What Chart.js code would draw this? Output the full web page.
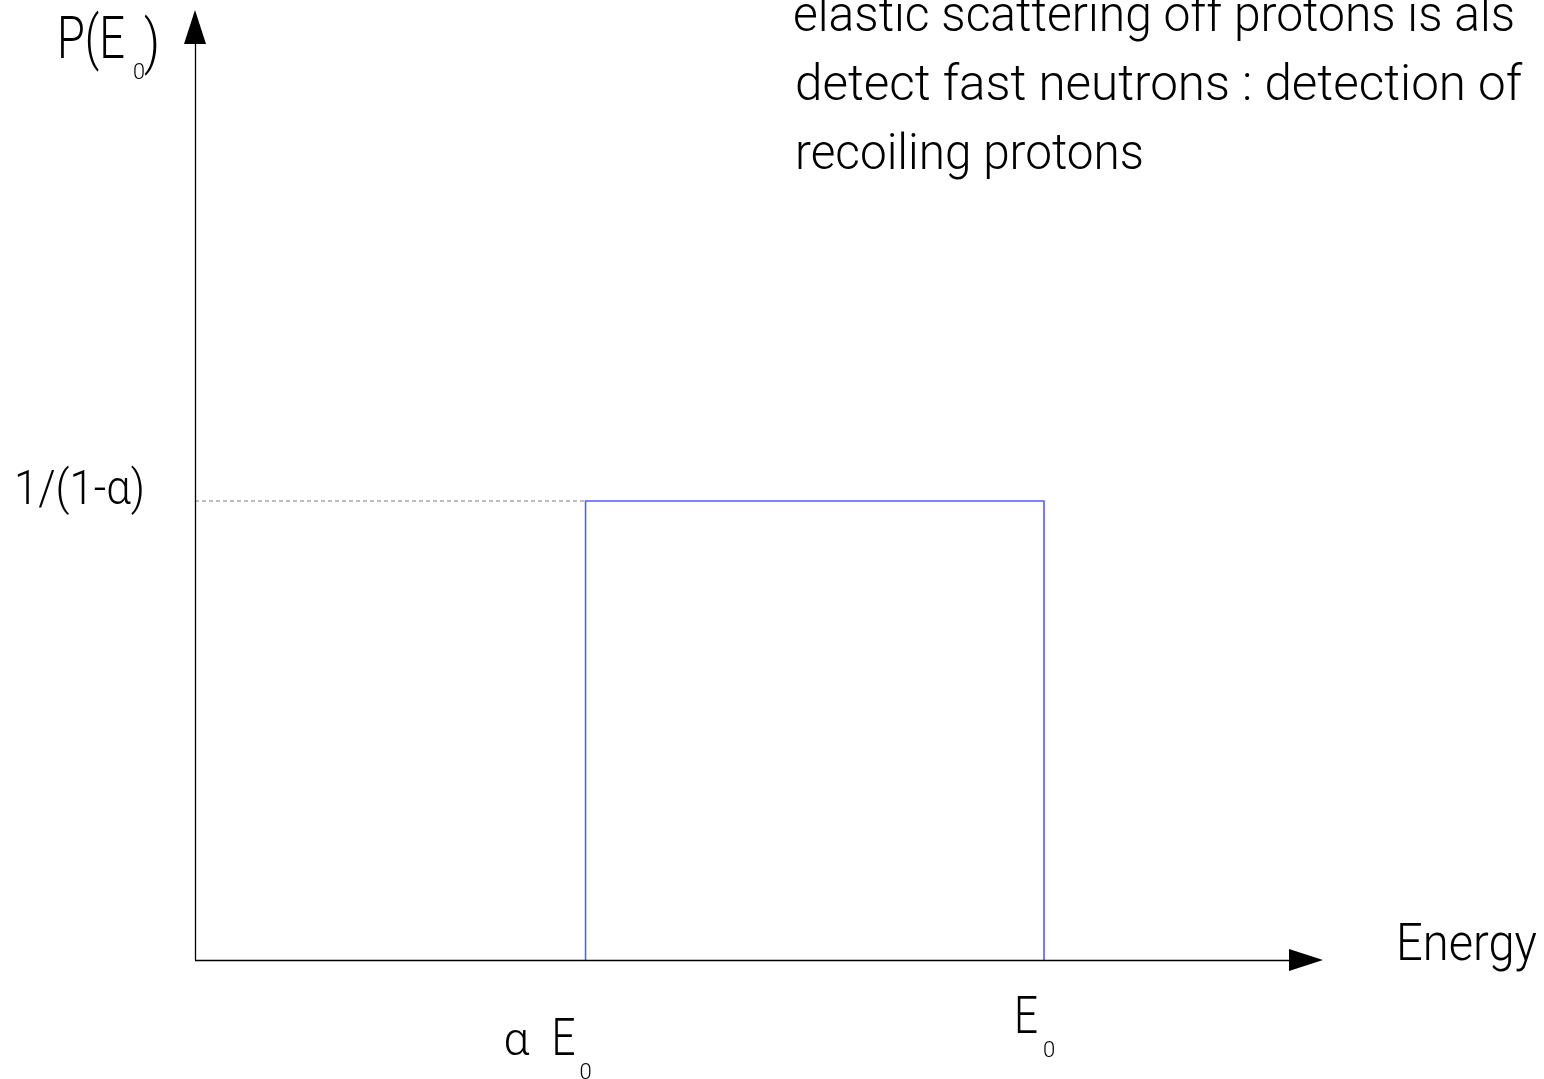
<!DOCTYPE html>
<html>
<head>
<meta charset="utf-8">
<script src="https://cdn.jsdelivr.net/npm/chart.js@4.4.1/dist/chart.umd.min.js"></script>
<style>
  html, body { margin: 0; padding: 0; background: #ffffff; }
  #wrap { width: 1544px; height: 1079px; position: relative; }
</style>
</head>
<body>
<div id="wrap"><canvas id="c" width="1544" height="1079"></canvas></div>
<script>
// ---- data ----
const alphaValue = [0.46];                    // alpha * E0 in units of E0
const boxX = [0.46, 0.46, 1.0, 1.0];           // energy (units of E0)
const boxY = [0, 1.85, 1.85, 0];               // probability density
const guideX = [0, 0.46];
const guideY = [1.85, 1.85];
const xAxisRange = [0, 1.3286];
const yAxisRange = [0, 3.829];
const xTickValues = [0.46, 1.0];
const xTickLabels = ['α E', 'E'];
const xTickSubs = ['0', '0'];
const yTickValues = [1.85];
const yTickLabels = ['1/(1-α)'];
const yAxisTitle = ['P(E', '0', ')'];
const xAxisTitle = ['Energy'];
const noteLines = [
  'elastic scattering off protons is als',
  'detect fast neutrons : detection of',
  'recoiling protons'
];

const FONT = 'Roboto, "Open Sans", sans-serif';

function txt(ctx, s, x, y, size, maxW) {
  ctx.font = '300 ' + size + 'px ' + FONT;
  if (maxW) {
    const w = ctx.measureText(s).width;
    if (w > maxW) { ctx.fillText(s, x, y, maxW); return; }
  }
  ctx.fillText(s, x, y);
}

const overlay = {
  id: 'overlay',
  afterDatasetsDraw(chart) {
    const ctx = chart.ctx;
    const xs = chart.scales.x, ys = chart.scales.y;
    const x0 = xs.getPixelForValue(0), y0 = ys.getPixelForValue(0);
    const xEnd = xs.getPixelForValue(xAxisRange[1]);
    const yEnd = ys.getPixelForValue(yAxisRange[1]);
    ctx.save();
    // axes
    ctx.strokeStyle = '#000';
    ctx.fillStyle = '#000';
    ctx.lineWidth = 1.3;
    ctx.beginPath();
    ctx.moveTo(x0, y0 + 0.5); ctx.lineTo(xEnd - 30, y0 + 0.5);
    ctx.stroke();
    ctx.beginPath();
    ctx.moveTo(x0 + 0.5, y0); ctx.lineTo(x0 + 0.5, yEnd + 30);
    ctx.stroke();
    // arrow heads
    ctx.beginPath();
    ctx.moveTo(xEnd, y0); ctx.lineTo(xEnd - 34, y0 - 11); ctx.lineTo(xEnd - 34, y0 + 11);
    ctx.closePath(); ctx.fill();
    ctx.beginPath();
    ctx.moveTo(x0, yEnd); ctx.lineTo(x0 - 11, yEnd + 34); ctx.lineTo(x0 + 11, yEnd + 34);
    ctx.closePath(); ctx.fill();

    // texts
    ctx.fillStyle = '#000';
    ctx.textBaseline = 'alphabetic';
    ctx.textAlign = 'left';
    // y axis title
    txt(ctx, yAxisTitle[0], x0 - 138, yEnd + 48, 60, 68);
    txt(ctx, yAxisTitle[1], x0 - 62, yEnd + 69, 22, 12);
    txt(ctx, yAxisTitle[2], x0 - 51, yEnd + 52, 60, 16);
    // y tick label
    yTickValues.forEach((v, i) => {
      const py = ys.getPixelForValue(v);
      txt(ctx, yTickLabels[i], 14, py + 3, 48, 131);
    });
    // x tick labels
    const xl = xs.getPixelForValue(xTickValues[0]);
    txt(ctx, 'α', xl - 82, y0 + 95, 46, 26);
    txt(ctx, xTickLabels[0].slice(2), xl - 34, y0 + 95, 52, 24);
    txt(ctx, xTickSubs[0], xl - 6, y0 + 119, 22, 13);
    const xr = xs.getPixelForValue(xTickValues[1]);
    txt(ctx, xTickLabels[1], xr - 30, y0 + 73, 52, 24);
    txt(ctx, xTickSubs[1], xr - 1, y0 + 97, 22, 13);
    // x axis title
    txt(ctx, xAxisTitle[0], xEnd + 73, y0, 52, 141);
    // note
    txt(ctx, noteLines[0], 793, 31, 50, 722);
    txt(ctx, noteLines[1], 795, 100, 50, 727);
    txt(ctx, noteLines[2], 795, 169, 50, 349);
    ctx.restore();
  }
};

const toPts = (xa, ya) => xa.map((x, i) => ({ x: x, y: ya[i] }));

new Chart(document.getElementById('c'), {
  type: 'scatter',
  data: {
    datasets: [
      {
        data: toPts(guideX, guideY),
        showLine: true,
        borderColor: '#7a7a7a',
        borderWidth: 1,
        borderDash: [4, 3],
        pointRadius: 0,
        clip: false
      },
      {
        data: toPts(boxX, boxY),
        showLine: true,
        borderColor: '#5a5aff',
        borderWidth: 1.6,
        pointRadius: 0,
        clip: false,
        tension: 0
      }
    ]
  },
  options: {
    responsive: false,
    animation: false,
    devicePixelRatio: 1,
    layout: { padding: { left: 195, right: 221, top: 10, bottom: 119 } },
    plugins: { legend: { display: false }, tooltip: { enabled: false }, title: { display: false } },
    events: [],
    scales: {
      x: { type: 'linear', display: false, min: xAxisRange[0], max: xAxisRange[1] },
      y: { type: 'linear', display: false, min: yAxisRange[0], max: yAxisRange[1] }
    }
  },
  plugins: [overlay]
});
</script>
</body>
</html>
